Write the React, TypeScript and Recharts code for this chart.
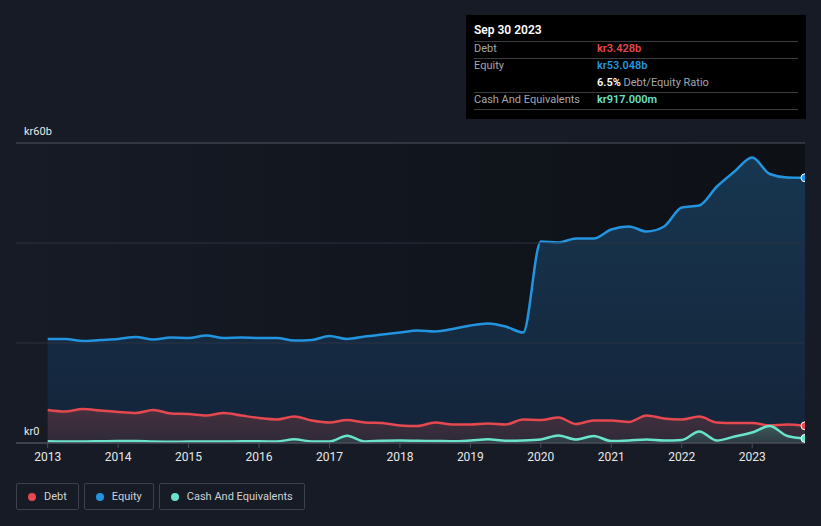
import React from 'react';
import { ComposedChart, Area, XAxis, YAxis, ReferenceLine, ReferenceArea } from 'recharts';

const quarters: number[] = [
  2013, 2013.25, 2013.5, 2013.75, 2014, 2014.25, 2014.5, 2014.75, 2015, 2015.25, 2015.5, 2015.75,
  2016, 2016.25, 2016.5, 2016.75, 2017, 2017.25, 2017.5, 2017.75, 2018, 2018.25, 2018.5, 2018.75,
  2019, 2019.25, 2019.5, 2019.75, 2020, 2020.25, 2020.5, 2020.75, 2021, 2021.25, 2021.5, 2021.75,
  2022, 2022.25, 2022.5, 2022.75, 2023, 2023.25, 2023.5, 2023.75,
];
const equity: number[] = [
  20.8, 20.8, 20.4, 20.6, 20.8, 21.2, 20.7, 21.1, 21.0, 21.5, 21.0, 21.1,
  21.0, 21.0, 20.5, 20.6, 21.4, 20.8, 21.3, 21.7, 22.1, 22.5, 22.3, 22.8,
  23.5, 23.9, 23.3, 22.1, 40.3, 40.1, 40.9, 40.9, 42.7, 43.3, 42.3, 43.3,
  47.1, 47.5, 51.3, 54.3, 57.1, 53.8, 53.1, 53.048,
];
const debt: number[] = [
  6.6, 6.3, 6.8, 6.5, 6.2, 6.0, 6.6, 5.9, 5.8, 5.5, 6.0, 5.5,
  5.0, 4.7, 5.3, 4.5, 4.1, 4.6, 4.1, 4.0, 3.5, 3.4, 4.1, 3.7,
  3.7, 3.9, 3.7, 4.7, 4.6, 5.1, 3.8, 4.5, 4.5, 4.2, 5.5, 4.9,
  4.7, 5.3, 4.1, 4.0, 4.0, 3.5, 3.7, 3.428,
];
const cash: number[] = [
  0.35, 0.3, 0.3, 0.35, 0.4, 0.4, 0.3, 0.25, 0.3, 0.3, 0.3, 0.35,
  0.35, 0.3, 0.75, 0.3, 0.3, 1.45, 0.3, 0.45, 0.5, 0.45, 0.4, 0.35,
  0.5, 0.75, 0.45, 0.5, 0.7, 1.5, 0.7, 1.4, 0.4, 0.5, 0.7, 0.5,
  0.6, 2.3, 0.5, 1.3, 2.1, 3.4, 1.4, 0.917,
];
const yearTicks: number[] = [2013, 2014, 2015, 2016, 2017, 2018, 2019, 2020, 2021, 2022, 2023];
const gridValues: number[] = [20, 40];
const legendItems: { name: string; color: string }[] = [
  { name: 'Debt', color: '#e5484f' },
  { name: 'Equity', color: '#2394df' },
  { name: 'Cash And Equivalents', color: '#6ae2cc' },
];
const tooltipRows = {
  date: 'Sep 30 2023',
  debt: 'kr3.428b',
  equity: 'kr53.048b',
  ratio: '6.5%',
  cash: 'kr917.000m',
};

const data = quarters.map((q, i) => ({ q, equity: equity[i], debt: debt[i], cash: cash[i] }));

const DEBT = '#e5484f';
const EQUITY = '#2394df';
const CASH = '#6ae2cc';
const FONT = 'Roboto, "Noto Sans", sans-serif';

const lastDot = (color: string) => (props: any) => {
  const { cx, cy, index } = props;
  if (index !== data.length - 1) return <g key={`d${index}`} />;
  return <circle key={`d${index}`} cx={cx} cy={cy} r={4} fill={color} stroke="#ffffff" strokeWidth={1} />;
};

const yLabel = (text: string, dy: number) => (props: any) => {
  const vb = props.viewBox || {};
  return (
    <text x={24} y={(vb.y ?? 0) + dy} fill="#e8e8e8" fontSize={11} fontFamily={FONT}>
      {text}
    </text>
  );
};

export default function App() {
  return (
    <div style={{ position: 'fixed', left: 0, top: 0, width: 821, height: 526, background: '#161b26', fontFamily: FONT, overflow: 'hidden' }}>
      <ComposedChart width={821} height={526} data={data} margin={{ top: 143, right: 16, bottom: 53, left: 16 }}>
        <defs>
          <linearGradient id="bgGrad" x1="0" y1="0" x2="1" y2="0">
            <stop offset="0%" stopColor="#161b26" />
            <stop offset="100%" stopColor="#0d1015" />
          </linearGradient>
          <linearGradient id="eqGrad" x1="0" y1="0" x2="0" y2="1">
            <stop offset="0%" stopColor="#17364f" />
            <stop offset="100%" stopColor="#14243a" />
          </linearGradient>
          <linearGradient id="debtGrad" x1="0" y1="0" x2="0" y2="1">
            <stop offset="0%" stopColor="#46303f" />
            <stop offset="100%" stopColor="#2e2a38" />
          </linearGradient>
          <linearGradient id="cashGrad" x1="0" y1="0" x2="0" y2="1">
            <stop offset="0%" stopColor="#3b5a58" />
            <stop offset="100%" stopColor="#2d3a44" />
          </linearGradient>
        </defs>
        <XAxis
          dataKey="q"
          type="number"
          domain={[2012.55, 2023.75]}
          ticks={yearTicks}
          allowDataOverflow
          height={30}
          stroke="#4a4f58"
          tickLine={{ stroke: '#4a4f58' }}
          tickSize={5}
          tick={{ fill: '#e8e8e8', fontSize: 12, fontFamily: FONT }}
          tickMargin={4}
        />
        <YAxis hide domain={[0, 60]} ticks={[0, 20, 40, 60]} allowDataOverflow />
        <ReferenceArea x1={2012.55} x2={2023.75} y1={0} y2={60} fill="url(#bgGrad)" fillOpacity={1} stroke="none" ifOverflow="hidden" />
        {gridValues.map((v) => (
          <ReferenceLine key={v} y={v} stroke="#2a3340" strokeWidth={1} />
        ))}
        <ReferenceLine y={60} stroke="#50545c" strokeWidth={1} label={yLabel('kr60b', -8)} />
        <ReferenceLine y={0} stroke="#4a4f58" strokeWidth={1} label={yLabel('kr0', -8)} />
        <Area
          type="monotone"
          dataKey="equity"
          stroke={EQUITY}
          strokeWidth={2.5}
          fill="url(#eqGrad)"
          fillOpacity={1}
          isAnimationActive={false}
          dot={lastDot(EQUITY)}
          activeDot={false}
        />
        <Area
          type="monotone"
          dataKey="debt"
          stroke={DEBT}
          strokeWidth={2.5}
          fill="url(#debtGrad)"
          fillOpacity={1}
          isAnimationActive={false}
          dot={lastDot(DEBT)}
          activeDot={false}
        />
        <Area
          type="monotone"
          dataKey="cash"
          stroke={CASH}
          strokeWidth={2.5}
          fill="url(#cashGrad)"
          fillOpacity={1}
          isAnimationActive={false}
          dot={lastDot(CASH)}
          activeDot={false}
        />
      </ComposedChart>

      <div style={{ position: 'absolute', left: 466, top: 15, width: 340, height: 104, background: '#000000', fontSize: 11, color: '#a3a7ad' }}>
        <div style={{ position: 'absolute', left: 8, top: 8, color: '#ffffff', fontWeight: 600, fontSize: 12 }}>{tooltipRows.date}</div>
        {[41, 58, 92, 109].map((y) => (
          <div key={y} style={{ position: 'absolute', left: 8, top: y - 15, width: 324, height: 1, background: '#3a3d42' }} />
        ))}
        <div style={{ position: 'absolute', left: 8, top: 27 }}>Debt</div>
        <div style={{ position: 'absolute', left: 131, top: 27, color: DEBT, fontWeight: 600 }}>{tooltipRows.debt}</div>
        <div style={{ position: 'absolute', left: 8, top: 44 }}>Equity</div>
        <div style={{ position: 'absolute', left: 131, top: 44, color: EQUITY, fontWeight: 600 }}>{tooltipRows.equity}</div>
        <div style={{ position: 'absolute', left: 131, top: 61 }}>
          <span style={{ color: '#ffffff', fontWeight: 600 }}>{tooltipRows.ratio}</span> Debt/Equity Ratio
        </div>
        <div style={{ position: 'absolute', left: 8, top: 78 }}>Cash And Equivalents</div>
        <div style={{ position: 'absolute', left: 131, top: 78, color: CASH, fontWeight: 600 }}>{tooltipRows.cash}</div>
      </div>

      <div style={{ position: 'absolute', left: 16, top: 483, display: 'flex', gap: 5 }}>
        {legendItems.map((it) => (
          <div
            key={it.name}
            style={{
              height: 25,
              border: '1px solid #3c414b',
              borderRadius: 2,
              display: 'flex',
              alignItems: 'center',
              padding: '0 11px 0 11px',
              color: '#cfd2d6',
              fontSize: 11,
            }}
          >
            <span style={{ width: 8, height: 8, borderRadius: '50%', background: it.color, display: 'inline-block', marginRight: 8 }} />
            {it.name}
          </div>
        ))}
      </div>
    </div>
  );
}
